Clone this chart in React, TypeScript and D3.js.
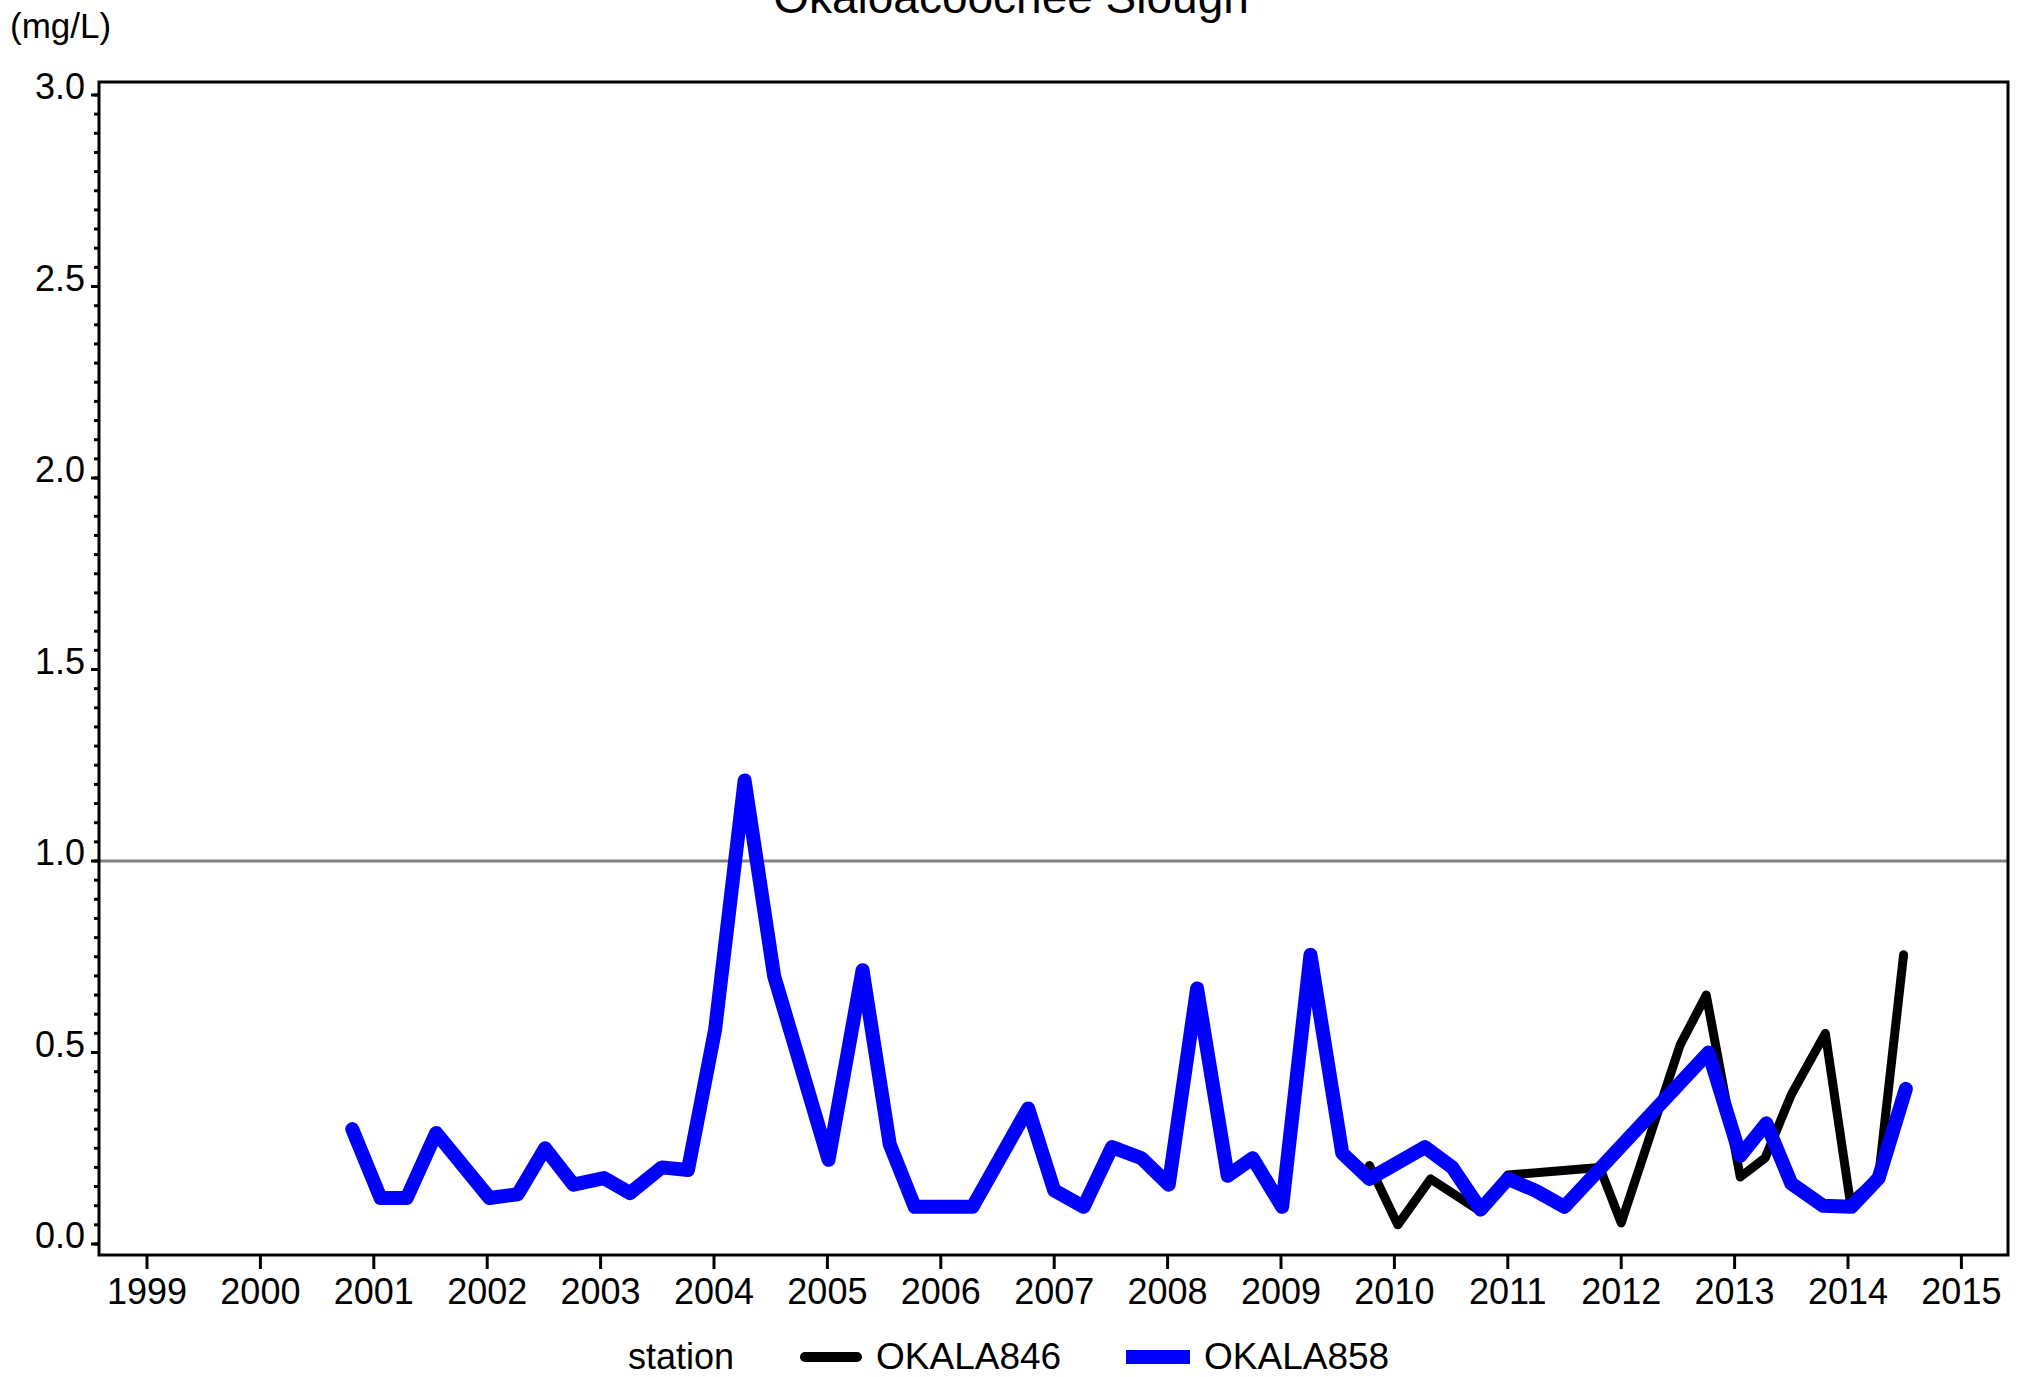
import React from "react";
import * as d3 from "d3";

const chartTitle = "Okaloacoochee Slough";
const unitLabel = "(mg/L)";
const legendTitle = "station";
const stationNames = ["OKALA846", "OKALA858"];
const yearTicks = [1999, 2000, 2001, 2002, 2003, 2004, 2005, 2006, 2007, 2008, 2009, 2010, 2011, 2012, 2013, 2014, 2015];
const yTickValues = [0, 0.5, 1.0, 1.5, 2.0, 2.5, 3.0];
const referenceLevel = 1.0;

const okala846Dates = [2009.78, 2010.03, 2010.32, 2010.51, 2010.76, 2011.0, 2011.81, 2012.0, 2012.52, 2012.75, 2013.05, 2013.27, 2013.5, 2013.8, 2014.02, 2014.27, 2014.49];
const okala846Values = [0.205, 0.05, 0.17, 0.133, 0.085, 0.18, 0.2, 0.055, 0.52, 0.65, 0.175, 0.225, 0.39, 0.55, 0.11, 0.175, 0.755];

const okala858Dates = [
  2000.81, 2001.06, 2001.29, 2001.55, 2002.02, 2002.27, 2002.51, 2002.76, 2003.03, 2003.26, 2003.54, 2003.77,
  2004.01, 2004.27, 2004.53, 2005.01, 2005.31, 2005.55, 2005.77, 2006.28, 2006.77, 2007.0, 2007.26, 2007.51,
  2007.77, 2008.01, 2008.26, 2008.53, 2008.75, 2009.01, 2009.26, 2009.54, 2009.78, 2010.27, 2010.51, 2010.76,
  2011.0, 2011.24, 2011.5, 2012.77, 2013.05, 2013.28, 2013.5, 2013.78, 2014.03, 2014.27, 2014.51,
];
const okala858Values = [
  0.3, 0.12, 0.12, 0.29, 0.12, 0.13, 0.25, 0.155, 0.172, 0.133, 0.2, 0.193,
  0.56, 1.21, 0.7, 0.22, 0.715, 0.26, 0.097, 0.097, 0.354, 0.14, 0.097, 0.253,
  0.224, 0.155, 0.667, 0.178, 0.224, 0.097, 0.755, 0.237, 0.17, 0.253, 0.2, 0.09,
  0.17, 0.14, 0.097, 0.5, 0.23, 0.315, 0.158, 0.1, 0.097, 0.172, 0.405,
];

const W = 2023;
const H = 1377;
const frame = { left: 99, right: 2008, top: 82, bottom: 1255 };
const font = "'Liberation Sans', Arial, Helvetica, sans-serif";

export default function App() {
  const x = d3.scaleLinear().domain([1999, 2015]).range([147, 147 + 16 * 113.4]);
  const y = d3.scaleLinear().domain([0, 3]).range([1244, 95]);

  const line = d3
    .line<[number, number]>()
    .x((d) => x(d[0]))
    .y((d) => y(d[1]));

  const s846 = okala846Dates.map((d, i) => [d, okala846Values[i]] as [number, number]);
  const s858 = okala858Dates.map((d, i) => [d, okala858Values[i]] as [number, number]);

  const minorTicks = d3.range(0, 61).map((i) => i * 0.05);

  return (
    <svg
      width={W}
      height={H}
      style={{ position: "fixed", left: 0, top: 0, background: "#fff" }}
      fontFamily={font}
    >
      <rect x={0} y={0} width={W} height={H} fill="#fff" />
      <text x={1011} y={13} fontSize={46} textAnchor="middle" fill="#000">
        {chartTitle}
      </text>
      <text x={10} y={38} fontSize={35} fill="#000">
        {unitLabel}
      </text>

      {/* reference line */}
      <line
        x1={frame.left}
        x2={frame.right}
        y1={y(referenceLevel)}
        y2={y(referenceLevel)}
        stroke="#808080"
        strokeWidth={3}
      />

      {/* data */}
      <path
        d={line(s846) || ""}
        fill="none"
        stroke="#000"
        strokeWidth={9}
        strokeLinejoin="round"
        strokeLinecap="round"
      />
      <path
        d={line(s858) || ""}
        fill="none"
        stroke="#0000ff"
        strokeWidth={14}
        strokeLinejoin="round"
        strokeLinecap="round"
      />

      {/* frame */}
      <rect
        x={frame.left}
        y={frame.top}
        width={frame.right - frame.left}
        height={frame.bottom - frame.top}
        fill="none"
        stroke="#000"
        strokeWidth={3}
      />

      {/* y ticks */}
      {minorTicks.map((v, i) => (
        <line key={"m" + i} x1={frame.left - 5} x2={frame.left} y1={y(v)} y2={y(v)} stroke="#000" strokeWidth={3} />
      ))}
      {yTickValues.map((v) => (
        <g key={"y" + v}>
          <line x1={frame.left - 8} x2={frame.left} y1={y(v)} y2={y(v)} stroke="#000" strokeWidth={3} />
          <text x={85} y={y(v) + 4} fontSize={36} textAnchor="end" fill="#000">
            {v.toFixed(1)}
          </text>
        </g>
      ))}

      {/* x ticks */}
      {yearTicks.map((t) => (
        <g key={"x" + t}>
          <line x1={x(t)} x2={x(t)} y1={frame.bottom} y2={frame.bottom + 14} stroke="#000" strokeWidth={3} />
          <text x={x(t)} y={1304} fontSize={36} textAnchor="middle" fill="#000">
            {t}
          </text>
        </g>
      ))}

      {/* legend */}
      <text x={628} y={1369} fontSize={36} fill="#000">
        {legendTitle}
      </text>
      <line x1={805} x2={857} y1={1357} y2={1357} stroke="#000" strokeWidth={10} strokeLinecap="round" />
      <text x={876} y={1369} fontSize={37} fill="#000">
        {stationNames[0]}
      </text>
      <line x1={1126} x2={1190} y1={1357} y2={1357} stroke="#0000ff" strokeWidth={14} />
      <text x={1204} y={1369} fontSize={37} fill="#000">
        {stationNames[1]}
      </text>
    </svg>
  );
}
